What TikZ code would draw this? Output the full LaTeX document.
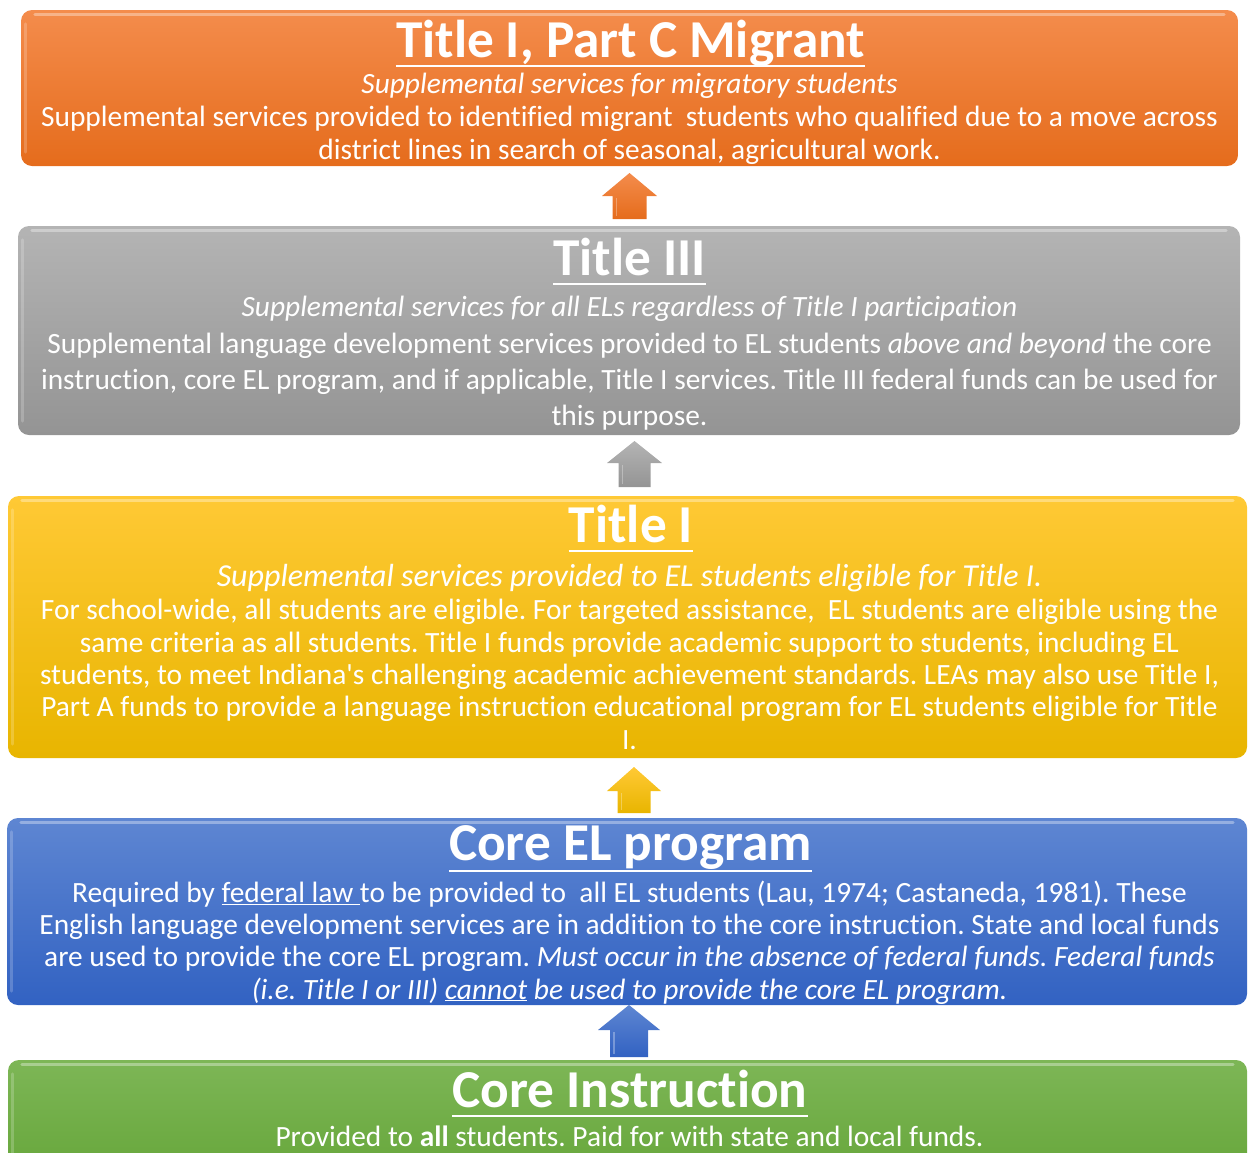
\documentclass[tikz,border=0pt]{standalone}
\usepackage{fontspec}
\setmainfont{Carlito}[Ligatures={TeXOff,CommonOff}]
\frenchspacing
\definecolor{orT}{HTML}{F48C4C}\definecolor{orB}{HTML}{E56C1C}
\definecolor{grT}{HTML}{B4B4B4}\definecolor{grB}{HTML}{949494}
\definecolor{yeT}{HTML}{FFC935}\definecolor{yeB}{HTML}{E8B500}
\definecolor{blT}{HTML}{5E86D2}\definecolor{blB}{HTML}{3262C2}
\definecolor{gnT}{HTML}{7DB656}\definecolor{gnB}{HTML}{66A63A}
\begin{document}
\begin{tikzpicture}[x=1pt,y=-1pt,
  box/.style={rounded corners=11pt, inner sep=0pt, draw=none},
  gloss/.style={white, opacity=0.35, line width=3pt, line cap=round},
  ttl/.style={text=white, inner sep=0pt, anchor=base, font=\fontsize{53.3}{60}\selectfont\bfseries},
  sub/.style={text=white, inner sep=0pt, anchor=base, font=\fontsize{29.4}{32}\selectfont\itshape},
  body/.style={text=white, inner sep=0pt, anchor=base, align=center},
  ul/.style={white, line width=2.6pt}]
\useasboundingbox (0,0) rectangle (1248,1152);
\clip (0,0) rectangle (1248,1152);
% boxes
\node[box, top color=orT, bottom color=orB, minimum width=1217pt, minimum height=156pt] (orange) at (629.5,88) {};
\node[box, top color=grT, bottom color=grB, minimum width=1222pt, minimum height=209pt] (gray) at (629,330.5) {};
\node[box, top color=yeT, bottom color=yeB, minimum width=1239pt, minimum height=262pt] (yellow) at (627.5,627) {};
\node[box, top color=blT, bottom color=blB, minimum width=1240pt, minimum height=187pt] (blue) at (627,911.5) {};
\node[box, top color=gnT, bottom color=gnB, minimum width=1239pt, minimum height=120pt] (green) at (627.5,1120) {};
% gloss highlights
\foreach \n in {orange,gray,yellow,blue,green}{
  \draw[gloss] ([xshift=14pt,yshift=-5pt]\n.north west) -- ([xshift=-14pt,yshift=-5pt]\n.north east);
  \draw[gloss, opacity=0.2] ([xshift=5pt,yshift=-14pt]\n.north west) -- ([xshift=5pt,yshift=14pt]\n.south west);
}
% arrows
\newcommand\uparr[8]{% cx tip shoulder bottom headhalf stemhalf topcolor bottomcolor
  \shade[top color=#7, bottom color=#8] (#1,#2) -- (#1+#5,#3) -- (#1+#6,#3) -- (#1+#6,#4) -- (#1-#6,#4) -- (#1-#6,#3) -- (#1-#5,#3) -- cycle;
  \draw[white, opacity=0.3, line width=1.5pt] (#1-#6+4,#3+2) -- (#1-#6+4,#4-3);}
\uparr{629.5}{173}{196}{219}{27.5}{17}{orT}{orB}
\uparr{634.5}{441}{463}{487}{27.5}{16}{grT}{grB}
\uparr{634}{767}{791}{813}{27}{16.5}{yeT}{yeB}
\uparr{629}{1005}{1030}{1057}{31}{19}{blT}{blB}
% Orange texts
\node[ttl] (t1) at (630.5,57) {Title I, Part C Migrant};
\draw[ul] ([yshift=-9pt]t1.base west) -- ([yshift=-9pt]t1.base east);
\node[sub] (s1) at (629.5,93) {Supplemental services for migratory students};
\node[body, font=\fontsize{29.4}{32.3}\selectfont] (b1) at (629.5,159) {Supplemental services provided to identified migrant\ \ students who qualified due to a move across\\district lines in search of seasonal, agricultural work.};
% Gray texts
\node[ttl] (t2) at (629.5,275) {Title III};
\draw[ul] ([yshift=-9pt]t2.base west) -- ([yshift=-9pt]t2.base east);
\node[sub] (s2) at (629.5,316) {Supplemental services for all ELs regardless of Title I participation};
\node[body, font=\fontsize{29.4}{36}\selectfont] (b2) at (629.5,425) {Supplemental language development services provided to EL students \textit{above and beyond} the core\\instruction, core EL program, and if applicable, Title I services. Title III federal funds can be used for\\this purpose.};
% Yellow texts
\node[ttl] (t3) at (631,542) {Title I};
\draw[ul] ([yshift=-9pt]t3.base west) -- ([yshift=-9pt]t3.base east);
\node[sub, font=\fontsize{32}{34}\selectfont\itshape] (s3) at (629.5,586) {Supplemental services provided to EL students eligible for Title I.};
\node[body, font=\fontsize{29.4}{32.3}\selectfont] (b3) at (629.5,749) {For school-wide, all students are eligible. For targeted assistance,\ \ EL students are eligible using the\\same criteria as all students. Title I funds provide academic support to students, including EL\\students, to meet Indiana's challenging academic achievement standards. LEAs may also use Title I,\\Part A funds to provide a language instruction educational program for EL students eligible for Title\\I.};
% Blue texts
\node[ttl] (t4) at (630.5,860) {Core EL program};
\draw[ul] ([yshift=-11pt]t4.base west) -- ([yshift=-11pt]t4.base east);
\node[body, font=\fontsize{29.4}{32.3}\selectfont] (b4) at (629.5,999) {Required by \underline{federal law }to be provided to\ \ all EL students (Lau, 1974; Castaneda, 1981). These\\English language development services are in addition to the core instruction. State and local funds\\are used to provide the core EL program. \textit{Must occur in the absence of federal funds. Federal funds}\\\textit{(i.e. Title I or III) \underline{cannot} be used to provide the core EL program.}};
% Green texts
\node[ttl] (t5) at (630,1107) {Core Instruction};
\draw[ul] ([yshift=-9pt]t5.base west) -- ([yshift=-9pt]t5.base east);
\node[body, font=\fontsize{29.4}{32.3}\selectfont] (b5) at (629.5,1146) {Provided to \textbf{all} students. Paid for with state and local funds.};
\end{tikzpicture}
\end{document}
